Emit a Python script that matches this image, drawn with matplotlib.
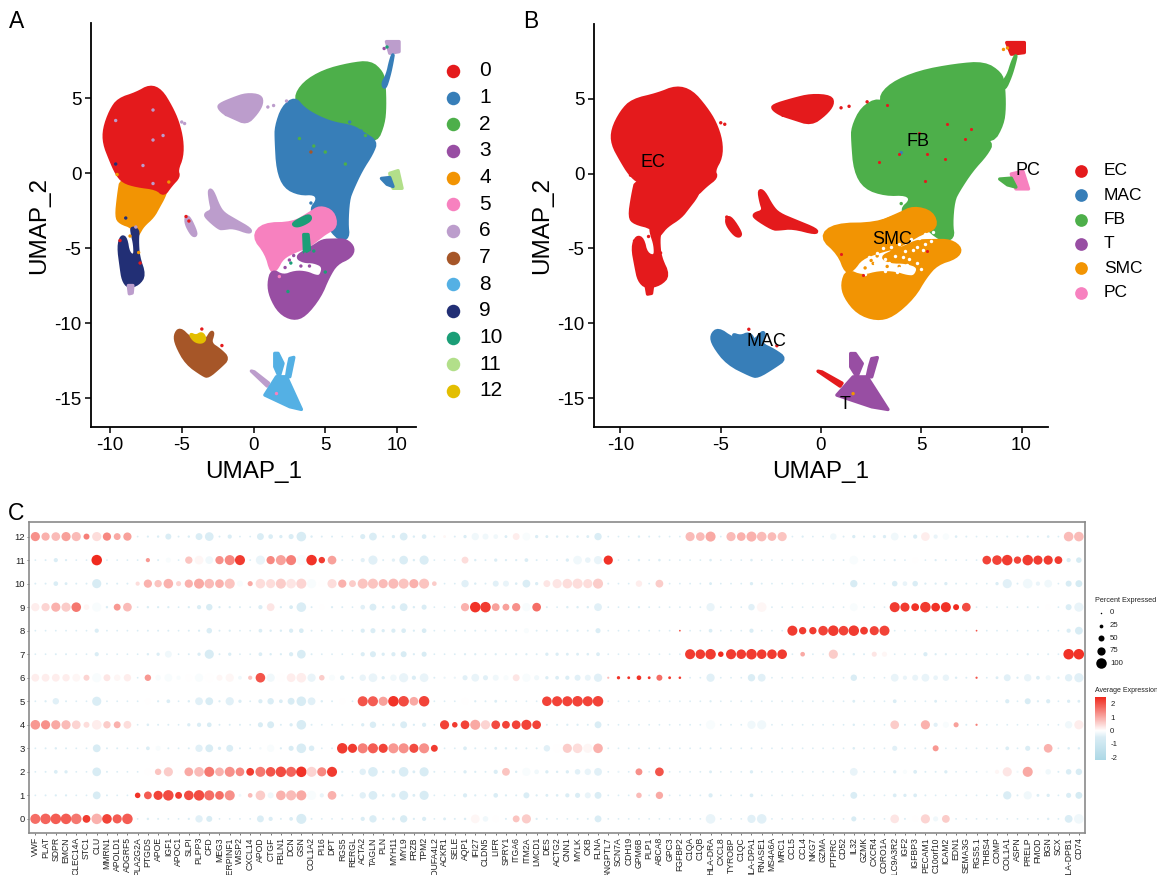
import matplotlib
matplotlib.use('Agg')
import matplotlib.pyplot as plt
import numpy as np
from matplotlib.colors import LinearSegmentedColormap, TwoSlopeNorm

plt.rcParams['font.family'] = ['Liberation Sans', 'DejaVu Sans']
plt.rcParams['axes.unicode_minus'] = False

W, H = 1157, 875

# ---- UMAP outlines (UMAP_1, UMAP_2) ----
c0_x = [-7.22,-6.45,-5.75,-5.28,-4.98,-4.98,-5.35,-5.2,-5.75,-6.25,-6.75,-8.14,-9.07,-9.54,-9.95,-10.4,-10.4,-9.95,-9.4,-8.14]
c0_y = [5.8,5.5,4.4,3.4,2.2,1.09,0.2,-0.24,-0.8,-1.47,-1.02,-0.85,-0.58,-0.02,0.87,1.98,2.95,4.15,4.9,5.3]
c4_x = [-9.2,-7.0,-6.0,-6.25,-6.6,-7.0,-7.7,-8.0,-8.2,-8.4,-9.3,-9.55,-9.4]
c4_y = [-0.3,-0.4,-0.9,-1.6,-2.2,-2.9,-3.5,-4.0,-4.3,-3.6,-3.3,-2.9,-1.5]
c9_x = [-8.49,-8.03,-8.1,-8.03,-7.6,-8.03,-8.72,-9.08,-9.22,-9.4,-9.19,-8.89,-8.72,-8.26,-8.26,-8.45]
c9_y = [-3.62,-3.8,-4.47,-5.58,-6.8,-7.4,-7.6,-7.13,-6.24,-4.91,-4.2,-4.36,-5.36,-5.58,-4.8,-4.02]
c6a_x = [-8.72,-8.4,-8.45,-8.65]
c6a_y = [-7.5,-7.5,-8.0,-8.05]
c6b_x = [-2.4,-1.42,-0.49,0.5,0.6,0.21,-0.49,-1.42,-2.0,-2.4]
c6b_y = [4.55,4.95,5.25,5.15,4.64,3.98,3.3,3.7,3.95,4.31]
c6c_x = [-3.1,-2.85,-2.45,-2.1,-1.3,-0.2,-0.25,-1.4,-2.1,-2.4,-3.3,-3.35,-2.85,-3.0]
c6c_y = [-1.1,-1.2,-2.2,-2.7,-3.15,-3.75,-4.0,-3.6,-3.7,-3.7,-2.95,-2.7,-2.5,-1.9]
c6d_x = [-4.7,-4.45,-4.0,-4.05,-4.3,-4.7]
c6d_y = [-2.9,-3.0,-3.95,-4.2,-4.1,-3.4]
c6e_x = [9.26,10.14,10.14,9.49]
c6e_y = [8.76,8.76,8.09,7.98]
c6f_x = [-0.15,0.05,1.05,0.95]
c6f_y = [-13.2,-13.25,-14.0,-14.2]
c2_x = [2.88,3.5,4.9,6.71,8.15,8.95,9.1,9.15,9.05,8.55,7.63,6.94,5.55,4.39,3.46]
c2_y = [5.0,6.0,6.8,7.25,7.4,6.7,5.98,4.42,3.31,2.1,2.64,3.09,3.31,3.76,4.31]
c1_x = [2.88,3.46,4.39,5.55,6.94,7.63,8.55,8.25,7.5,6.85,6.6,6.5,6.6,6,5.0,4.4,4.0,4.5,4.27,3.22,2.2,1.7,1.58,1.58,2.05]
c1_y = [5.0,4.31,3.76,3.31,3.09,2.64,2.1,1.31,0.2,-1.13,-1.8,-3.36,-4.3,-4.47,-3.3,-3.0,-2.4,-1.8,-1.35,-1.4,-0.95,0.2,2.2,3.09,4.4]
c1b_x = [8.98,9.33,9.56,9.75,9.65,9.45,9.15]
c1b_y = [5.98,6.53,7.53,8.0,7.4,6.5,5.6]
c1c_x = [8.91,9.49,9.72,9.3]
c1c_y = [-0.36,-0.3,-0.9,-0.75]
c5_x = [-0.02,0.67,2.76,3.92,4.62,5.55,5.78,4.97,4.6,3.8,2.9,2.0,1.6,1.25,0.9]
c5_y = [-4.24,-3.4,-3.36,-2.69,-2.24,-2.58,-3.58,-4.02,-4.3,-4.9,-5.2,-5.65,-6.4,-6.6,-5.36]
c3_x = [6.47,7.0,6.75,5.78,5.2,4.62,3.57,2.76,1.83,1.2,1.05,1.3,2.06,2.9,3.7,4.3,4.7,4.9,4.2,3.5,3.0,3.6,4.2,4.8,5.55]
c3_y = [-4.47,-5.02,-5.6,-6.02,-6.91,-8.24,-9.5,-9.75,-9.3,-8.24,-7.36,-6.47,-6.9,-6.6,-6.65,-6.9,-6.9,-6.2,-5.9,-5.9,-5.6,-5.2,-4.9,-4.5,-4.47]
c10a_x = [2.7,3.3,3.9,4.0,3.5,3.0]
c10a_y = [-3.4,-3.05,-2.8,-3.1,-3.4,-3.55]
c10b_x = [3.5,3.8,3.9,3.55]
c10b_y = [-4.1,-4.1,-5.1,-5.3]
c11_x = [9.49,10.07,10.35,9.72]
c11_y = [-0.02,0.16,-1.02,-1.02]
c7_x = [-5.48,-5.13,-4.43,-3.74,-3.27,-2.93,-2.81,-3.04,-2.34,-1.76,-2.34,-3.16,-3.5,-4.66,-5.36]
c7_y = [-10.8,-10.36,-11.02,-11.24,-11.13,-10.58,-10.69,-11.36,-11.8,-12.36,-12.91,-13.58,-13.47,-12.69,-11.47]
c12_x = [-4.45,-4.0,-3.6,-3.35,-3.6,-4.1]
c12_y = [-10.7,-10.9,-10.65,-11.05,-11.3,-11.2]
c8a_x = [1.6,2.3,3.34,2.53,0.79]
c8a_y = [-13.58,-13.58,-15.76,-15.58,-14.8]
c8b_x = [1.48,1.71,2.06,1.79,1.48]
c8b_y = [-12.02,-12.02,-12.69,-13.58,-12.91]
c8c_x = [2.53,2.81,2.53,2.3,2.41]
c8c_y = [-12.36,-12.29,-13.58,-13.58,-12.91]

# isolated cells around the clusters
speck_x = [-1.9,-1.4,1.0,1.4,2.3,-5.0,-4.8,9.1,9.3,4.0,-7.0,-6.3,-7.0,-7.7,-9.6,-8.2,
           3.5,4.3,5.2,5.6,6.7,7.5,3.2,4.2,6.0,7.8,8.2,6.4,
           2.8,3.2,3.6,3.3,2.6,2.2,4.2,2.5,1.8,3.9,4.6,5.0,
           -9.3,-8.0,-7.9,-8.6,-9.5,-7.0,-5.9,-4.7,-4.5,-3.6,-2.2,5.0,4.0,2.4,1.6,-8.9,-9.6]
speck_y = [3.9,4.0,4.4,4.5,4.8,3.4,3.3,8.3,8.4,-2.0,4.2,2.5,2.2,0.5,3.5,-3.6,
           3.6,3.2,2.5,0.9,3.4,2.8,2.3,1.8,3.7,2.5,3.2,0.6,
           -5.5,-5.7,-5.4,-6.2,-6.0,-6.3,-5.2,-5.8,-6.9,-6.2,-5.4,-6.6,
           -4.5,-5.3,-6.0,-4.2,-0.1,-0.7,-0.6,-2.9,-3.2,-10.4,-11.5,1.4,1.4,-7.9,-14.7,-3.0,0.6]
speck_cluster = [6,6,6,6,6,6,6,3,10,1,6,6,6,6,6,6,
                 1,1,1,1,1,1,2,2,2,2,2,2,
                 3,3,3,3,10,3,10,3,5,3,3,10,
                 0,4,0,4,4,6,4,0,0,0,0,2,7,10,5,9,9]

# cells that only show in panel B
red_speck_x = [7.2,6.2,5.3,3.9,2.9,4.9,6.3,7.5,3.3,5.2,1.0,2.1,5.3]
red_speck_y = [2.3,1.0,1.3,1.3,0.8,2.7,3.3,3.0,4.6,-0.5,-5.4,-6.8,-5.2]
gap_x = [2.4,2.8,3.1,3.5,3.9,4.2,4.5,4.9,5.2,5.5,2.7,3.2,3.7,4.1,4.6,5.1,2.5,3.0,3.4,3.9,4.4,4.8,5.6,5.2,4.8,4.3,3.8,3.2,5.0,2.2]
gap_y = [-5.6,-5.3,-5.0,-4.9,-4.7,-5.2,-4.4,-4.3,-4.0,-4.5,-6.0,-5.7,-5.5,-5.6,-5.1,-5.1,-6.4,-6.2,-6.0,-6.3,-5.7,-6.0,-3.9,-4.7,-4.9,-6.1,-6.6,-6.5,-6.4,-6.7]

outlines = [(4,c4_x,c4_y),(0,c0_x,c0_y),(9,c9_x,c9_y),(6,c6a_x,c6a_y),(6,c6b_x,c6b_y),(6,c6c_x,c6c_y),
            (6,c6d_x,c6d_y),(6,c6e_x,c6e_y),(6,c6f_x,c6f_y),(2,c2_x,c2_y),(1,c1_x,c1_y),(1,c1b_x,c1b_y),
            (5,c5_x,c5_y),(3,c3_x,c3_y),(10,c10a_x,c10a_y),(10,c10b_x,c10b_y),(11,c11_x,c11_y),(1,c1c_x,c1c_y),
            (7,c7_x,c7_y),(12,c12_x,c12_y),(8,c8a_x,c8a_y),(8,c8b_x,c8b_y),(8,c8c_x,c8c_y)]

clusters = ['0','1','2','3','4','5','6','7','8','9','10','11','12']
cluster_colors = ['#E41A1C','#377EB8','#4DAF4A','#984EA3','#F29403','#F781BF','#BC9DCC','#A65628','#54B0E4','#222F75','#1B9E77','#B2DF8A','#E3BE00']
cell_types = ['EC','MAC','FB','T','SMC','PC']
cell_colors = ['#E41A1C','#377EB8','#4DAF4A','#984EA3','#F29403','#F781BF']
# which cell type each cluster belongs to in panel B
cluster_type = [0,2,2,4,0,4,0,1,3,0,4,5,1]

# ---- dot plot ----
genes = ['VWF','PLAT','SDPR','EMCN','CLEC14A','STC1','CLU','MMRN1','APOLD1','ADGRF5',
         'PLA2G2A','PTGDS','APOE','IGF1','APOC1','SLPI','PLPP3','CFD','MEG3','SERPINF1','WISP2',
         'CXCL14','APOD','CTGF','FBLN1','DCN','GSN','COL1A2','PI16','DPT',
         'RGS5','RERGL','ACTA2','TAGLN','PLN','MYH11','MYL9','FRZB','TPM2','NDUFA4L2',
         'ACKR1','SELE','AQP1','IFI27','CLDN5','LIFR','SPRY1','ITGA6','ITM2A','LMCD1',
         'DES','ACTG2','CNN1','MYLK','CKB','FLNA',
         'ANGPTL7','SCN7A','CDH19','GPM6B','PLP1','ABCA8','GPC3','FGFBP2',
         'C1QA','C1QB','HLA-DRA','CXCL8','TYROBP','C1QC','HLA-DPA1','RNASE1','MS4A6A','MRC1',
         'CCL5','CCL4','NKG7','GZMA','PTPRC','CD52','IL32','GZMK','CXCR4','CORO1A',
         'SLC9A3R2','IGF2','IGFBP3','PECAM1','C10orf10','ICAM2','EDN1','SEMA3G',
         'RGS5.1',
         'THBS4','COMP','COL1A1','ASPN','PRELP','FMOD','BGN','SCX',
         'HLA-DPB1','CD74']

# percent expressed, one list per cluster row
pct_0 = [95,100,100,100,100,70,100,90,85,100, 3,10,5,3,3,8,65,50,3,3,3, 3,60,30,5,25,95,5,3,3, 5,3,30,65,5,15,65,8,30,3, 15,5,10,80,45,55,5,60,85,8, 5,3,3,5,5,60, 3,3,3,3,3,3,3,3, 3,3,90,3,3,3,75,90,3,3, 3,3,3,3,3,3,40,3,3,3, 80,5,50,85,40,70,3,3, 3, 3,3,3,3,3,3,10,3, 70,90]
pct_1 = [3,5,8,8,3,3,70,5,3,3, 45,70,85,100,60,90,100,95,80,95,15, 35,90,50,90,95,95,85,30,80, 8,3,55,80,10,30,85,15,85,3, 3,3,30,8,5,35,8,5,50,8, 15,12,30,40,50,60, 3,3,3,45,3,65,3,3, 3,3,30,3,3,3,25,3,3,3, 3,3,3,3,3,3,60,3,3,3, 25,20,25,5,3,3,3,3, 3, 3,3,75,5,75,15,20,3, 40,60]
pct_2 = [3,5,25,20,3,3,80,5,3,3, 3,55,55,85,25,80,90,95,80,95,80, 70,95,90,100,95,100,95,85,95, 8,3,55,90,8,25,90,15,85,5, 3,3,20,8,5,30,70,10,75,35, 20,10,20,45,55,70, 3,8,3,60,3,80,3,3, 3,3,15,3,3,3,20,3,3,3, 3,3,3,3,3,3,70,3,3,3, 20,30,25,5,5,20,3,3, 3, 8,30,85,8,95,50,45,5, 45,55]
pct_3 = [3,5,10,5,3,3,70,5,5,3, 3,25,40,5,3,5,65,70,20,60,5, 3,10,65,8,40,90,45,3,3, 100,85,95,95,85,95,95,85,95,60, 3,3,25,5,5,15,10,8,5,5, 55,75,85,90,85,90, 3,3,3,3,3,3,3,3, 3,3,5,3,3,3,5,3,3,3, 3,3,3,3,3,3,12,3,3,3, 40,3,3,5,50,3,3,3, 3, 3,3,25,3,40,5,80,3, 12,10]
pct_4 = [90,85,85,85,80,50,90,65,60,70, 3,12,5,5,3,20,30,35,5,5,5, 3,40,60,5,20,90,5,3,3, 5,3,20,55,5,15,60,8,30,3, 85,45,80,95,85,80,70,80,95,80, 5,5,8,8,5,60, 3,3,3,3,3,3,3,3, 3,3,85,3,3,3,75,85,3,3, 3,3,3,3,3,3,10,3,3,3, 80,5,5,85,30,50,40,5, 8, 3,3,3,3,3,3,3,3, 65,85]
pct_5 = [3,8,55,5,3,3,85,3,3,3, 3,50,8,25,3,10,70,70,8,75,20, 3,30,55,25,60,90,70,10,5, 50,3,95,95,85,100,100,80,100,3, 3,3,60,8,5,15,5,3,3,3, 90,95,95,100,95,100, 3,3,3,3,3,3,3,3, 3,3,8,3,3,3,5,3,3,3, 3,3,3,3,3,3,15,3,3,3, 25,3,3,3,15,3,3,3, 3, 3,3,30,3,50,8,30,3, 20,15]
pct_6 = [70,70,70,65,70,50,85,60,55,65, 3,55,45,70,30,60,75,80,50,75,25, 30,90,75,75,80,90,75,45,50, 35,5,55,80,20,55,85,30,80,5, 8,8,40,70,40,50,40,60,75,40, 20,25,30,50,50,75, 8,20,15,35,15,50,15,12, 3,3,75,3,3,3,65,70,3,3, 3,3,3,3,3,3,55,3,3,3, 70,30,50,70,35,55,10,5, 8, 3,15,60,8,65,25,40,8, 65,85]
pct_7 = [3,3,5,5,3,3,30,3,3,3, 3,10,20,60,3,5,20,85,5,20,3, 3,25,10,8,30,80,5,3,3, 3,3,30,50,20,30,50,8,40,3, 3,3,8,8,5,8,5,8,8,5, 20,20,15,15,12,25, 3,3,3,3,3,3,3,3, 95,90,100,45,95,90,100,90,90,90, 3,35,3,3,85,5,10,5,40,40, 3,3,3,30,8,8,3,3, 3, 3,3,3,3,8,3,5,3, 100,100]
pct_8 = [3,3,3,3,3,3,30,3,3,3, 3,5,5,5,3,5,8,45,5,8,3, 3,25,10,10,30,35,5,3,3, 3,3,30,40,20,30,35,8,35,3, 3,3,5,5,5,5,5,5,40,5, 5,5,8,8,5,40, 3,3,3,3,3,3,3,3, 3,3,25,3,3,3,30,3,3,3, 95,65,65,90,100,90,100,70,85,95, 3,3,3,3,3,3,3,3, 3, 3,3,3,3,3,3,3,3, 30,70]
pct_9 = [75,75,85,85,90,45,85,10,60,80, 3,10,8,8,3,8,30,55,8,8,5, 3,30,70,8,25,90,5,40,8, 5,3,35,60,10,25,70,10,40,3, 3,3,75,100,100,70,60,75,75,80, 5,3,10,10,10,70, 3,3,3,8,3,3,3,3, 3,3,75,3,3,3,55,90,3,3, 3,3,3,3,3,3,70,3,3,3, 95,85,70,100,80,95,50,80, 3, 3,3,3,3,5,3,40,3, 50,85]
pct_10 = [5,5,35,15,5,5,85,5,5,5, 30,75,65,90,40,75,95,90,80,95,50, 40,90,85,95,90,95,85,55,85, 75,60,95,95,85,95,95,85,95,35, 3,3,65,10,5,50,50,12,70,20, 60,85,90,95,85,95, 5,3,3,55,3,70,3,3, 3,3,15,3,3,3,20,5,3,3, 3,3,3,3,3,3,65,3,3,3, 45,35,45,8,8,20,5,5, 3, 3,20,85,5,90,30,70,3, 50,60]
pct_11 = [3,5,30,8,3,3,100,3,3,3, 3,30,5,40,3,65,80,70,75,95,95, 3,85,75,95,95,95,100,55,80, 5,3,30,85,5,20,80,10,85,3, 3,3,60,10,5,20,8,8,25,5, 3,3,20,80,45,75, 85,3,3,10,3,12,3,3, 3,3,12,3,3,3,12,3,3,3, 3,3,3,3,3,3,80,3,3,3, 8,3,50,3,8,5,3,3, 3, 80,90,100,65,100,85,85,70, 30,45]
pct_12 = [85,75,80,85,85,50,85,75,60,75, 3,7,10,50,5,10,60,80,5,30,3, 3,60,35,20,40,90,10,5,5, 3,3,40,70,5,20,70,10,35,5, 15,5,20,65,50,35,15,60,70,20, 15,10,10,10,15,65, 3,3,3,10,5,5,3,3, 85,80,95,3,85,80,95,90,80,85, 3,8,3,3,55,5,20,5,15,20, 70,5,30,80,30,55,12,5, 3, 3,3,5,3,8,3,12,3, 90,90]

# average expression x10, one list per cluster row
avg_0 = [17,18,19,19,16,23,9,22,19,19, -5,-5,-5,-5,-5,-5,-4,-6,-5,-5,-5, -5,-5,-5,-5,-5,-6,-5,-5,-5, -5,-5,-5,-5,-5,-5,-6,-5,-5,-5, -5,-5,-5,1,-2,0,-5,7,6,-5, -5,-5,-5,-5,-5,-5, -5,-5,-5,-5,-5,-5,-5,-5, -5,-5,-3,-5,-5,-5,-4,-4,-5,-5, -5,-5,-5,-5,-5,-5,-6,-5,-5,-5, 3,-5,0,5,-2,6,-5,-5, -5, -5,-5,-5,-5,-5,-5,-5,-5, -5,-2]
avg_1 = [-5,-5,-5,-5,-5,-5,-6,-5,-5,-5, 24,19,22,21,23,21,21,17,17,13,-2, 8,6,-2,9,8,10,-1,-3,9, -5,-5,-4,-5,-5,-5,-5,-5,-6,-5, -5,-5,-5,-5,-5,-5,-5,-5,-5,-5, -5,-5,-5,-5,-3,-5, -5,-5,-5,8,-5,10,-5,-5, -5,-5,-5,-5,-5,-5,-5,-5,-5,-5, -5,-5,-5,-5,-5,-5,-5,-5,-5,-5, -5,-5,-5,-5,-5,-5,-5,-5, -5, -5,-5,-5,-5,-2,-5,-5,-5, -5,-7]
avg_2 = [-5,-5,-5,-5,-5,-5,-6,-5,-5,-5, -5,0,7,6,0,10,8,16,9,13,14, 23,16,20,21,18,24,5,14,23, -5,-5,-4,-5,-5,-5,-5,-5,-6,-5, -5,-5,-5,-5,-5,-5,7,-5,-1,-2, -5,-5,-5,-4,-3,-4, -5,-3,-5,13,-5,20,-5,-5, -5,-5,-5,-5,-5,-5,-5,-5,-5,-5, -5,-5,-5,-5,-5,-5,-3,-5,-5,-5, -5,-1,-5,-5,-5,-5,-5,-5, -5, -2,1,3,-2,10,0,-2,-5, -5,-6]
avg_3 = [-5,-5,-5,-5,-5,-5,-6,-5,-5,-5, -5,-5,-1,-5,-5,-5,-4,-6,-5,-5,-5, -5,-2,-1,-5,-6,-6,-5,-5,-5, 23,23,15,19,22,12,13,21,13,23, -5,-5,-5,-5,-5,-5,-5,-5,-5,-5, -4,0,6,4,1,9, -5,-5,-5,-5,-5,-5,-5,-5, -5,-5,-5,-5,-5,-5,-5,-5,-5,-5, -5,-5,-5,-5,-5,-5,-5,-5,-5,-5, -4,-5,-5,-5,12,-5,-5,-5, -5, -5,-5,-5,-5,-5,-5,9,-5, -5,-5]
avg_4 = [12,13,10,8,5,4,2,6,9,4, -5,-5,-5,-5,-5,-5,-5,-6,-5,-5,-5, -5,-6,-6,-5,-5,-6,-5,-5,-5, -5,-5,-5,-5,-5,-5,-5,-5,-5,-5, 22,23,22,10,5,21,22,22,22,22, -5,-5,-5,-5,-5,-5, -5,-5,-5,-5,-5,-5,-5,-5, -5,-5,-1,-5,-5,-5,-2,-2,-5,-5, -5,-5,-5,-5,-5,-5,-5,-5,-5,-5, 6,-5,-5,9,-4,-1,11,-5, 15, -5,-5,-5,-5,-5,-5,-5,-5, -2,2]
avg_5 = [-5,-5,-4,-5,-5,-5,-5,-5,-5,-5, -5,0,-5,-5,-5,-5,-4,-6,-5,-4,-5, -5,-5,-5,-5,-6,-6,-4,-5,-5, 0,-5,20,19,11,24,21,10,22,-5, -5,-5,0,-5,-5,-5,-5,-5,-5,-5, 22,22,22,22,22,22, -5,-5,-5,-5,-5,-5,-5,-5, -5,-5,-5,-5,-5,-5,-5,-5,-5,-5, -5,-5,-5,-5,-5,-5,-5,-5,-5,-5, -5,-5,-5,-5,-5,-5,-5,-5, -5, -5,-5,-5,-5,-6,-5,-5,-5, -5,-5]
avg_6 = [2,2,2,2,1,5,-1,3,1,2, -5,12,-1,-1,-1,0,-1,0,1,1,-2, 7,20,-2,0,2,2,-3,6,-1, -5,-5,-3,-3,-5,-2,-3,-5,-3,-5, -3,-3,-4,-3,-4,-2,-1,3,-1,-2, -5,-5,-5,-4,-3,-4, 8,24,24,24,24,17,23,23, -5,-5,-4,-5,-5,-5,-5,-4,-5,-5, -5,-5,-5,-5,-5,-5,-5,-5,-5,-5, -3,-3,-3,-3,-3,-3,-5,-5, 20, -5,-5,-4,-5,-3,-5,-2,-5, -4,-4]
avg_7 = [-5,-5,-5,-5,-5,-5,-5,-5,-5,-5, -5,-5,-5,-2,-5,-5,-5,-6,-5,-5,-5, -5,-5,-5,-5,-5,-6,-5,-5,-5, -5,-5,-5,-5,-5,-5,-6,-5,-6,-5, -5,-5,-5,-5,-5,-5,-5,-5,-5,-5, -5,-5,-5,-5,-5,-5, -5,-5,-5,-5,-5,-5,-5,-5, 23,23,23,25,23,23,23,23,23,23, -5,10,-5,-5,6,-5,-5,-5,3,1, -5,-5,-5,-5,-5,-5,-5,-5, -5, -5,-5,-5,-5,-5,-5,-5,-5, 24,24]
avg_8 = [-5,-5,-5,-5,-5,-5,-5,-5,-5,-5, -5,-5,-5,-5,-5,-5,-5,-5,-5,-5,-5, -5,-5,-5,-5,-5,-6,-5,-5,-5, -5,-5,-5,-5,-5,-5,-5,-5,-6,-5, -5,-5,-5,-5,-5,-5,-5,-5,-1,-5, -5,-5,-5,-5,-5,-5, -5,-5,-5,-5,-5,-5,-5,20, -5,-5,-5,-5,-5,-5,-5,-5,-5,-5, 23,23,23,22,23,22,23,23,22,22, -5,-5,-5,-5,-5,-5,-5,-5, 20, -5,-5,-5,-5,-5,-5,-5,-5, -5,-6]
avg_9 = [2,5,9,6,16,1,-1,-5,12,8, -5,-5,-5,-5,-5,-5,-5,-6,-5,-5,-5, -5,-5,3,-5,-6,-5,-5,0,-5, -5,-5,-4,-5,-5,-5,-5,-5,-5,-5, -5,-5,9,24,23,11,11,13,-1,17, -5,-5,-5,-5,-5,-4, -5,-5,-5,-5,-5,-5,-5,-5, -5,-5,-3,-5,-5,-5,-4,1,-5,-5, -5,-5,-5,-5,-5,-5,-1,-5,-5,-5, 23,23,24,23,24,24,25,21, -5, -5,-5,-5,-5,-5,-5,0,-5, -5,-3]
avg_10 = [-5,-5,-5,-5,-5,-5,-6,-5,-5,-5, 4,9,7,9,5,9,10,8,9,7,-1, 10,4,4,6,3,5,-1,0,4, 9,6,7,7,8,8,7,9,7,6, -5,-5,-4,-5,-5,-4,-3,-5,-5,-5, 3,3,4,4,4,6, -5,-5,-5,2,-5,6,-5,-5, -5,-5,-6,-5,-5,-5,-5,-5,-5,-5, -5,-5,-5,-5,-5,-5,-6,-5,-5,-5, -5,-3,-5,-5,-5,-5,-5,-5, -5, -5,-5,-4,-5,-2,-3,-2,-5, -6,-7]
avg_11 = [-5,-5,-5,-5,-5,-5,25,-5,-5,-5, -5,12,-5,-1,-5,7,1,-2,13,14,23, -5,-3,14,11,15,-1,24,23,11, -5,-5,-4,-4,-5,-4,-5,-5,-5,-5, -5,-5,4,-5,-5,-5,-5,-5,-5,-5, -5,-5,-5,-2,-3,-3, 24,-5,-5,-5,-5,-5,-5,-5, -5,-5,-5,-5,-5,-5,-5,-5,-5,-5, -5,-5,-5,-5,-5,-5,-1,-5,-5,-5, -5,-5,0,-5,-5,-5,-5,-5, -5, 22,22,23,22,23,23,23,23, -5,-7]
avg_12 = [13,9,8,11,8,15,4,14,10,11, -5,-5,-5,-5,-5,-5,-5,-5,-5,-5,-5, -5,-5,-5,-5,-5,-6,-5,-5,-5, -5,-5,-5,-5,-5,-5,-5,-5,-5,-5, 1,-5,-5,-2,-2,-2,-5,2,-1,-5, -5,-5,-5,-5,-5,-5, -5,-5,-5,-5,-5,-5,-5,-5, 8,8,10,-5,8,9,9,8,8,7, -5,-5,-5,-5,-2,-5,-6,-5,-5,-5, -2,-5,-5,2,-3,-1,-5,-5, -5, -5,-5,-5,-5,-5,-5,-5,-5, 8,8]

pct = np.array([pct_0,pct_1,pct_2,pct_3,pct_4,pct_5,pct_6,pct_7,pct_8,pct_9,pct_10,pct_11,pct_12], dtype=float)
avg = np.array([avg_0,avg_1,avg_2,avg_3,avg_4,avg_5,avg_6,avg_7,avg_8,avg_9,avg_10,avg_11,avg_12], dtype=float) / 10

pct_legend = [0,25,50,75,100]
avg_ticks = [-2,-1,0,1,2]


def px_axes(fig, left, top, right, bottom):
    '''Axes placed by pixel edges of the figure'''
    return fig.add_axes([left/W, 1-bottom/H, (right-left)/W, (bottom-top)/H])


def dot_size(p):
    # dot diameter in pixels -> scatter area in points^2
    d = 1.5 + np.asarray(p)*0.09
    return (d*0.72)**2


def round_outline(xs, ys, passes=2):
    '''Corner cutting so the cluster outlines are not angular'''
    pts = np.column_stack([xs, ys])
    if len(pts) < 6:
        return pts[:, 0], pts[:, 1]
    for _ in range(passes):
        nxt = np.roll(pts, -1, axis=0)
        pts = np.column_stack([0.75*pts + 0.25*nxt, 0.25*pts + 0.75*nxt]).reshape(-1, 2)
    return pts[:, 0], pts[:, 1]


def umap_axes(ax, colors):
    for cl, xs, ys in outlines:
        rx, ry = round_outline(xs, ys)
        ax.fill(rx, ry, color=colors[cl], lw=2.4, joinstyle='round')
    ax.scatter(speck_x, speck_y, s=6, linewidths=0, c=[colors[c] for c in speck_cluster], zorder=3)
    ax.set_xlim(-11.32, 11.32)
    ax.set_ylim(-16.93, 10)
    ax.set_xticks([-10,-5,0,5,10])
    ax.set_yticks([-15,-10,-5,0,5])
    ax.spines[['top','right']].set_visible(False)
    ax.spines[['left','bottom']].set_linewidth(1.3)
    ax.tick_params(labelsize=13.5, width=1.1, length=4, pad=3)
    ax.set_xlabel('UMAP_1', fontsize=17.5, labelpad=5)
    ax.set_ylabel('UMAP_2', fontsize=17.5, labelpad=3)


fig = plt.figure(figsize=(W/100, H/100), dpi=100, facecolor='white')

# Panel A
ax_a = px_axes(fig, 91, 23, 416, 427)
umap_axes(ax_a, cluster_colors)

# Panel B
type_colors = [cell_colors[t] for t in cluster_type]
ax_b = px_axes(fig, 594, 24, 1048, 427)
umap_axes(ax_b, type_colors)
ax_b.scatter(gap_x, gap_y, s=6, color='white', linewidths=0, zorder=4)
ax_b.scatter(red_speck_x, red_speck_y, s=5, color='#E41A1C', linewidths=0, zorder=5)
ax_b.text(-8.4, 0.75, 'EC', fontsize=13, ha='center', va='center', zorder=6)
ax_b.text(4.85, 2.15, 'FB', fontsize=13, ha='center', va='center', zorder=6)
ax_b.text(10.3, 0.2, 'PC', fontsize=13, ha='center', va='center', zorder=6)
ax_b.text(3.55, -4.4, 'SMC', fontsize=13, ha='center', va='center', zorder=6)
ax_b.text(-2.7, -11.2, 'MAC', fontsize=13, ha='center', va='center', zorder=6)
ax_b.text(1.2, -15.4, 'T', fontsize=13, ha='center', va='center', zorder=6)

# overlay in pixel coordinates for legends and panel letters
ov = fig.add_axes([0, 0, 1, 1], facecolor='none')
ov.set_xlim(0, W)
ov.set_ylim(H, 0)
ov.axis('off')
ov.text(9, 22, 'A', fontsize=16.5, va='center')
ov.text(523, 21, 'B', fontsize=16.5, va='center')
ov.text(8, 514, 'C', fontsize=16.5, va='center')

for i, name in enumerate(clusters):
    y = 71 + i*26.65
    ov.scatter(453, y, s=(13.5*0.72)**2, color=cluster_colors[i], linewidths=0)
    ov.text(479, y, name, fontsize=15, va='center')

for i, name in enumerate(cell_types):
    y = 170.7 + i*24.4
    ov.scatter(1080.7, y, s=(12.7*0.72)**2, color=cell_colors[i], linewidths=0)
    ov.text(1104, y, name, fontsize=12.5, va='center')

# Panel C
cmap = LinearSegmentedColormap.from_list('expr', [(0, '#ADD8E6'), (0.386, '#DAEDF5'), (0.5, '#FFFFFF'), (1, '#F02A1E')])
norm = TwoSlopeNorm(vmin=-2.2, vcenter=0, vmax=2.5)
ax_c = px_axes(fig, 29, 522, 1085, 833)
col, row = np.meshgrid(np.arange(len(genes)), np.arange(len(clusters)))
ax_c.scatter(col.ravel(), row.ravel(), s=dot_size(pct.ravel()), c=avg.ravel(), cmap=cmap, norm=norm, linewidths=0)
ax_c.set_xlim(-0.62, 102.6)
ax_c.set_ylim(-0.6, 12.62)
ax_c.set_xticks(range(len(genes)))
ax_c.set_xticklabels(genes, rotation=90, ha='center', va='top', fontsize=6.2, color='#222222')
ax_c.set_yticks(range(len(clusters)))
ax_c.set_yticklabels(clusters, fontsize=6.8, color='#222222')
ax_c.tick_params(axis='both', length=1.5, width=0.5, pad=1.5, color='#444444')
for s in ax_c.spines.values():
    s.set_color('#8A8A8A')
    s.set_linewidth(1.2)

ov.text(1095, 600, 'Percent Expressed', fontsize=5.2, va='center', color='#222222')
for i, p in enumerate(pct_legend):
    y = 613 + i*12.6
    ov.scatter(1101, y, s=dot_size(p), color='black', linewidths=0)
    ov.text(1110, y, str(p), fontsize=5.6, va='center', color='#222222')

ov.text(1095, 690, 'Average Expression', fontsize=5.0, va='center', color='#222222')
cax = px_axes(fig, 1095, 697, 1106, 760)
ramp = np.linspace(-2.2, 2.5, 256)[:, None]
cax.imshow(ramp, origin='lower', extent=[0, 1, -2.2, 2.5], aspect='auto', cmap=cmap, norm=norm)
cax.set_xticks([])
cax.set_yticks(avg_ticks)
cax.yaxis.tick_right()
cax.tick_params(labelsize=5.6, length=0, pad=3, labelcolor='#222222')
for s in cax.spines.values():
    s.set_visible(False)

fig.savefig('out.png', dpi=100)
